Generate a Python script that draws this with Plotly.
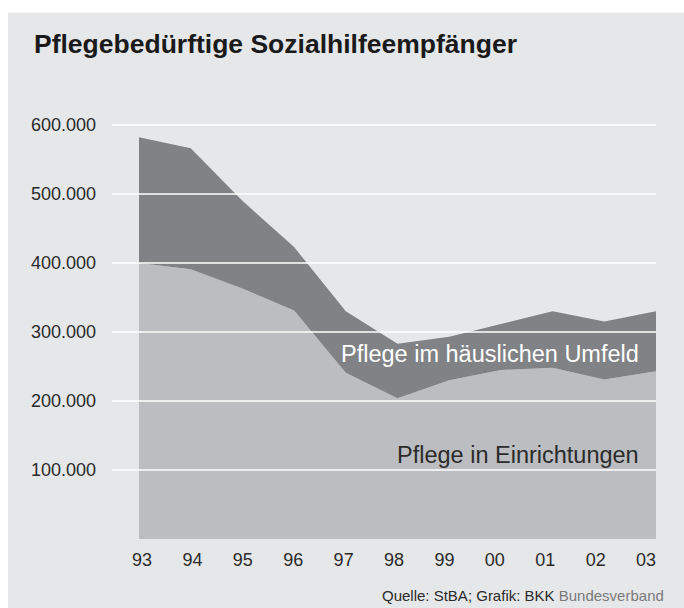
import plotly.graph_objects as go

# Daten (Anzahl Personen)
jahre = ["93", "94", "95", "96", "97", "98", "99", "00", "01", "02", "03"]
einrichtungen = [400000, 391000, 363000, 331000, 241000, 204000, 230000, 245000, 248000, 231000, 243000]
haeuslich = [182000, 175000, 127000, 92000, 89000, 79000, 63000, 67000, 82000, 84000, 87000]
y_ticks = [100000, 200000, 300000, 400000, 500000, 600000]

FONT = "Liberation Sans"
BG = "#e6e7e9"
HELL = "#bcbdc0"
DUNKEL = "#808285"
TEXT = "#2b2b2b"

W, H = 684, 608
# plot area in pixels
L, R, T, B = 112, 656, 118.4, 539.5


def px_x(px):
    return (px - L) / (R - L)


def px_y(py):
    return (B - py) / (B - T)


x = list(range(len(jahre)))

fig = go.Figure()

fig.add_trace(go.Scatter(
    x=x,
    y=einrichtungen,
    name="Pflege in Einrichtungen",
    mode="lines",
    stackgroup="one",
    line={"width": 0, "color": HELL},
    fillcolor=HELL,
))

fig.add_trace(go.Scatter(
    x=x,
    y=haeuslich,
    name="Pflege im häuslichen Umfeld",
    mode="lines",
    stackgroup="one",
    line={"width": 0, "color": DUNKEL},
    fillcolor=DUNKEL,
))

# white strips on the left and top, the rest of the page is the grey card
shapes = [
    dict(type="rect", xref="paper", yref="paper",
         x0=px_x(-5), x1=px_x(8), y0=px_y(H + 5), y1=px_y(-5),
         fillcolor="white", line={"width": 0}, layer="below"),
    dict(type="rect", xref="paper", yref="paper",
         x0=px_x(-5), x1=px_x(W + 5), y0=px_y(13), y1=px_y(-5),
         fillcolor="white", line={"width": 0}, layer="below"),
]

# white gridlines drawn over the areas
for v in y_ticks:
    shapes.append(dict(
        type="line", xref="paper", yref="y",
        x0=0, x1=1, y0=v, y1=v,
        line={"color": "white", "width": 1.5}, layer="above",
    ))

annotations = [
    dict(
        text="<b>Pflegebedürftige Sozialhilfeempfänger</b>",
        xref="paper", yref="paper", x=px_x(32), y=px_y(44),
        xanchor="left", yanchor="middle", showarrow=False,
        font={"family": FONT, "size": 26.5, "color": "#1a1a1a"},
    ),
    dict(
        text="Pflege im häuslichen Umfeld",
        xref="paper", yref="paper", x=px_x(641), y=px_y(354),
        xanchor="right", yanchor="middle", showarrow=False,
        font={"family": FONT, "size": 23.5, "color": "white"},
    ),
    dict(
        text="Pflege in Einrichtungen",
        xref="paper", yref="paper", x=px_x(641), y=px_y(455),
        xanchor="right", yanchor="middle", showarrow=False,
        font={"family": FONT, "size": 23.5, "color": TEXT},
    ),
    dict(
        text="Quelle: StBA; Grafik: BKK <span style='color:#7a7a7a'>Bundesverband</span>",
        xref="paper", yref="paper", x=px_x(666), y=px_y(596),
        xanchor="right", yanchor="middle", showarrow=False,
        font={"family": FONT, "size": 15, "color": TEXT},
    ),
]

step = 0.975
fig.update_layout(
    width=W,
    height=H,
    showlegend=False,
    paper_bgcolor=BG,
    plot_bgcolor=BG,
    separators=",.",
    margin={"l": L, "r": W - R, "t": T, "b": H - B, "pad": 0},
    font={"family": FONT, "size": 18, "color": TEXT},
    shapes=shapes,
    annotations=annotations,
    xaxis=dict(
        range=[-(139 - L) / 51.7, 10],
        tickvals=[0.058 + step * i for i in range(len(jahre))],
        ticktext=jahre,
        showgrid=False,
        zeroline=False,
        showline=False,
        ticks="",
        ticklabelstandoff=8,
        tickfont={"size": 18, "color": TEXT},
    ),
    yaxis=dict(
        range=[0, 610000],
        tickvals=y_ticks,
        tickformat=",d",
        showgrid=False,
        zeroline=False,
        showline=False,
        ticks="",
        ticklabelstandoff=15,
        tickfont={"size": 18, "color": TEXT},
    ),
)

# page without body margin / scrollbars so the figure sits at the top-left corner
fig.write_html(
    "out.html",
    config={"displayModeBar": False},
    post_script="document.body.style.margin='0';document.body.style.overflow='hidden';",
)
